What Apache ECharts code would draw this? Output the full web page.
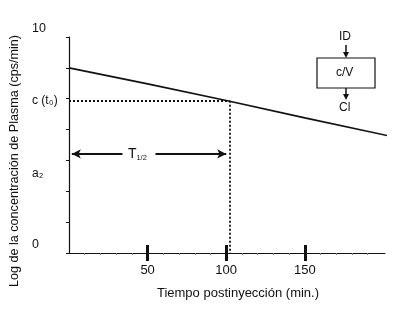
<!DOCTYPE html>
<html>
<head>
<meta charset="utf-8">
<script src="https://cdn.jsdelivr.net/npm/echarts@6/dist/echarts.min.js"></script>
<style>html,body{margin:0;padding:0;background:#fff}#c{width:400px;height:312px}</style>
</head>
<body>
<div id="c"></div>
<script>
// Data
const times = [0, 50, 100, 150, 203];
const logConc = [6.0, 5.48, 4.94, 4.38, 3.80];
const yTicks = [0, 1, 2, 3, 4, 5, 6, 7];
const yLabelValues = [0, 2.56, 4.93, 7];
const yLabelTexts = ['0', 'a₂', 'c (t₀)', '10'];
const xTicks = [50, 100, 150];
const tHalf = 102;
const cT0 = 4.93;
const arrowY = 3.21;
const arrowLeft = [34, 1.8];
const arrowRight = [55, 100];
const tHalfLabelX = 43.5;

const FONT = 'Liberation Sans, Arial, sans-serif';
const chart = echarts.init(document.getElementById('c'));

const xBase = {
  type: 'value', min: 0, max: 201, interval: 50, position: 'bottom',
  splitLine: {show: false}
};

chart.setOption({
  animation: false,
  backgroundColor: '#fff',
  grid: {left: 69, right: 15, top: 37, bottom: 59, containLabel: false},
  xAxis: [
    Object.assign({}, xBase, {
      name: 'Tiempo postinyección (min.)',
      nameLocation: 'middle', nameGap: 34,
      nameTextStyle: {fontFamily: FONT, fontSize: 13, color: '#111', padding: [0, 0, 0, 22]},
      axisLine: {show: true, lineStyle: {color: '#111', width: 1}},
      axisTick: {show: true, customValues: xTicks, length: 8, inside: false, lineStyle: {color: '#111', width: 3}},
      minorTick: {show: true, splitNumber: 5, length: 2, lineStyle: {color: '#777', width: 1}},
      axisLabel: {customValues: xTicks, margin: 11, fontFamily: FONT, fontSize: 13, color: '#111'}
    }),
    Object.assign({}, xBase, {
      axisLine: {show: false},
      axisTick: {show: true, customValues: xTicks, length: 8, inside: true, lineStyle: {color: '#111', width: 3}},
      axisLabel: {show: false}
    })
  ],
  yAxis: {
    type: 'value', min: 0, max: 7, interval: 1,
    name: 'Log de la concentración de Plasma (cps/min)',
    nameLocation: 'middle', nameGap: 45,
    nameTextStyle: {fontFamily: FONT, fontSize: 12.6, color: '#111', padding: [0, 32, 0, 0]},
    splitLine: {show: false},
    axisLine: {show: true, lineStyle: {color: '#111', width: 1.2}},
    axisTick: {show: true, customValues: yTicks, length: 3, lineStyle: {color: '#111', width: 1}},
    axisLabel: {
      customValues: yLabelValues,
      align: 'left', margin: 37,
      fontFamily: FONT, fontSize: 12, color: '#111',
      formatter: function (v) {
        const i = yLabelValues.indexOf(v);
        const t = i >= 0 ? yLabelTexts[i] : '';
        if (v === 0 || v === 7) return '{up|' + t + '}';
        return t;
      },
      rich: {up: {fontFamily: FONT, fontSize: 12.5, color: '#111', padding: [0, 0, 16, 0]}}
    }
  },
  series: [
    {
      type: 'line', data: times.map((t, i) => [t, logConc[i]]),
      showSymbol: false, symbol: 'none', clip: false,
      lineStyle: {color: '#111', width: 1.6},
      markLine: {
        silent: true, symbol: ['none', 'none'],
        label: {show: false},
        lineStyle: {color: '#111', type: [2, 2], width: 1.8},
        data: [
          [{coord: [0, cT0]}, {coord: [tHalf, cT0]}],
          [{coord: [tHalf, cT0]}, {coord: [tHalf, 0]}]
        ]
      }
    },
    {
      type: 'line', data: [], xAxisIndex: 0,
      markLine: {
        silent: true, symbol: ['none', 'arrow'], symbolSize: [7, 9],
        label: {show: false},
        lineStyle: {color: '#111', type: 'solid', width: 2},
        data: [
          [{coord: [arrowLeft[0], arrowY]}, {coord: [arrowLeft[1], arrowY]}],
          [{coord: [arrowRight[0], arrowY]}, {coord: [arrowRight[1], arrowY]}]
        ]
      },
      markPoint: {
        silent: true, symbol: 'circle', symbolSize: 0,
        label: {
          show: true, position: 'inside',
          formatter: '{t|T}{s|1/2}',
          rich: {
            t: {fontFamily: FONT, fontSize: 14, color: '#111'},
            s: {fontFamily: FONT, fontSize: 7.5, color: '#111', padding: [7, 0, 0, 0]}
          }
        },
        data: [{coord: [tHalfLabelX, arrowY]}]
      }
    }
  ],
  graphic: [
    {type: 'text', left: 339, top: 31, style: {text: 'ID', font: '12px ' + FONT, fill: '#111'}},
    {type: 'line', shape: {x1: 346, y1: 45, x2: 346, y2: 54}, style: {stroke: '#111', lineWidth: 1.5}},
    {type: 'polygon', shape: {points: [[343, 52], [349, 52], [346, 58]]}, style: {fill: '#111'}},
    {type: 'rect', shape: {x: 317, y: 58, width: 58, height: 30}, style: {fill: 'none', stroke: '#111', lineWidth: 1.2}},
    {type: 'text', left: 336, top: 67, style: {text: 'c/V', font: '12px ' + FONT, fill: '#111'}},
    {type: 'line', shape: {x1: 346, y1: 88, x2: 346, y2: 96}, style: {stroke: '#111', lineWidth: 1.5}},
    {type: 'polygon', shape: {points: [[343, 94], [349, 94], [346, 100]]}, style: {fill: '#111'}},
    {type: 'text', left: 339, top: 102, style: {text: 'Cl', font: '12px ' + FONT, fill: '#111'}}
  ]
});
</script>
</body>
</html>
